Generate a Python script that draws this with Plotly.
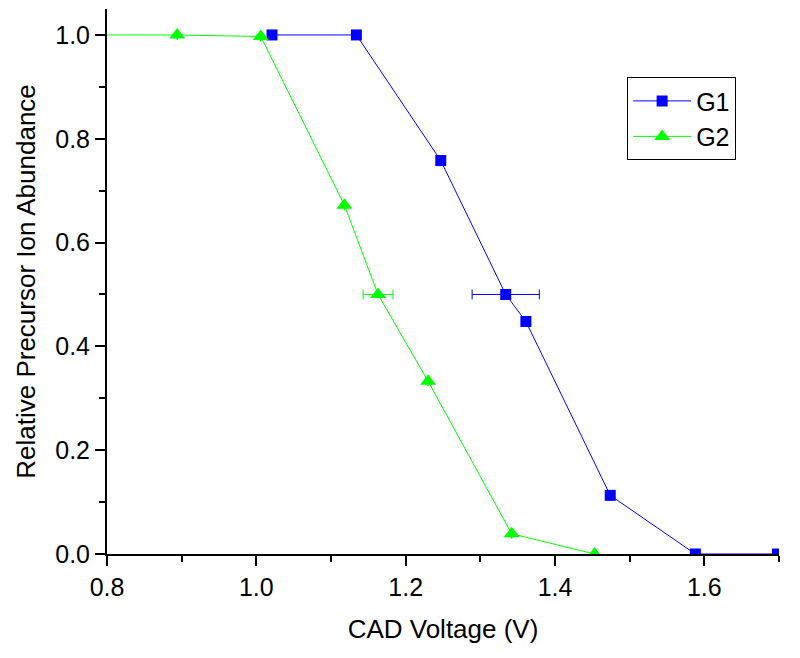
import plotly.graph_objects as go

# G1 data (blue squares)
g1_x = [1.021, 1.134, 1.247, 1.334, 1.361, 1.474, 1.588, 1.698]
g1_y = [1.0, 1.0, 0.758, 0.5, 0.448, 0.113, 0.0, 0.0]
g1_xerr = [0, 0, 0, 0.045, 0, 0, 0, 0]

# G2 data (green triangles)
g2_x = [0.781, 0.894, 1.006, 1.118, 1.163, 1.230, 1.342, 1.453]
g2_y = [1.0, 1.0, 0.997, 0.672, 0.5, 0.333, 0.039, 0.0]
g2_xerr = [0, 0, 0, 0, 0.02, 0, 0, 0]

x_ticks = [0.8, 1.0, 1.2, 1.4, 1.6]
y_ticks = [0.0, 0.2, 0.4, 0.6, 0.8, 1.0]

BLUE = "#0000FF"
GREEN = "#00FF00"
FONT = "Liberation Sans, Arial, sans-serif"

fig = go.Figure()
fig.add_trace(go.Scatter(
    x=g1_x, y=g1_y, name="G1", mode="lines+markers",
    line=dict(color=BLUE, width=1),
    marker=dict(symbol="square", size=11, color=BLUE),
    error_x=dict(type="data", array=g1_xerr, color=BLUE, thickness=1, width=5),
))
fig.add_trace(go.Scatter(
    x=g2_x, y=g2_y, name="G2", mode="lines+markers",
    line=dict(color=GREEN, width=1),
    marker=dict(symbol="triangle-up", size=14, color=GREEN),
    error_x=dict(type="data", array=g2_xerr, color=GREEN, thickness=1, width=5),
))

# page body has an 8px margin, so the figure is sized/offset to compensate
fig.update_layout(
    width=792, height=650,
    margin=dict(l=99, r=20.5, t=1, b=103.7),
    paper_bgcolor="white", plot_bgcolor="white",
    font=dict(family=FONT, size=25, color="black"),
    showlegend=True,
    legend=dict(
        x=0.774, y=0.875, xanchor="left", yanchor="top",
        bordercolor="black", borderwidth=1, bgcolor="white",
        font=dict(size=25), itemwidth=58, tracegroupgap=0,
    ),
    xaxis=dict(
        range=[0.8, 1.7], tickvals=x_ticks, ticktext=[f"{v:.1f}" for v in x_ticks],
        showgrid=False, zeroline=False, showline=True, linecolor="black", linewidth=2,
        ticks="outside", ticklen=10, tickwidth=2, tickcolor="black",
        minor=dict(dtick=0.1, ticks="outside", ticklen=6, tickwidth=2, tickcolor="black", showgrid=False),
        title=dict(text="CAD Voltage (V)", font=dict(size=26), standoff=20),
    ),
    yaxis=dict(
        range=[0, 1.05], tickvals=y_ticks, ticktext=[f"{v:.1f}" for v in y_ticks],
        showgrid=False, zeroline=False, showline=True, linecolor="black", linewidth=2,
        ticks="outside", ticklen=10, tickwidth=2, tickcolor="black",
        minor=dict(dtick=0.1, ticks="outside", ticklen=6, tickwidth=2, tickcolor="black", showgrid=False),
        title=dict(text="Relative Precursor Ion Abundance", font=dict(size=26), standoff=12),
    ),
)

fig.write_html("out.html")
